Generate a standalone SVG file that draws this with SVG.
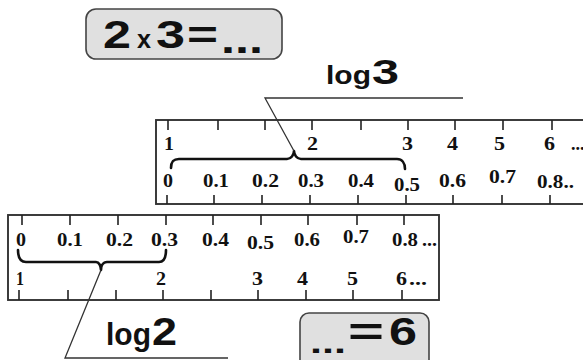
<svg xmlns="http://www.w3.org/2000/svg" width="583" height="360" viewBox="0 0 583 360">
<style>
.bg{fill:#ffffff}
.box{fill:#e0e0e0;stroke:#444;stroke-width:1.6}
.ruler{fill:#ffffff;stroke:#333;stroke-width:1.9}
.tick{stroke:#222;stroke-width:1.6}
.r{font-family:"Liberation Serif","Times New Roman",serif;font-weight:bold;font-size:18px;fill:#111}
.s{font-family:"Liberation Sans",Arial,sans-serif;font-weight:bold;fill:#111}
.brace{fill:none;stroke:#111;stroke-width:2.6;stroke-linejoin:round;stroke-linecap:round}
.lead{fill:none;stroke:#333;stroke-width:1.3}
</style>
<rect class="bg" x="0" y="0" width="583" height="360"/>

<g id="box-top">
<rect class="box" x="86" y="9" width="196" height="50" rx="10"/>
<text class="s" x="103" y="48" font-size="38" textLength="28" lengthAdjust="spacingAndGlyphs">2</text>
<text class="s" x="137" y="48" font-size="25" textLength="14" lengthAdjust="spacingAndGlyphs">x</text>
<text class="s" x="156" y="48" font-size="38" textLength="29" lengthAdjust="spacingAndGlyphs">3</text>
<text class="s" x="187" y="48" font-size="38" textLength="31" lengthAdjust="spacingAndGlyphs">=</text>
<text class="s" x="221" y="53" font-size="38" textLength="42" lengthAdjust="spacingAndGlyphs">...</text>
</g>

<g id="label-log3">
<text class="s" x="326" y="84" font-size="26" textLength="45" lengthAdjust="spacingAndGlyphs">log</text>
<text class="s" x="372" y="84" font-size="35" textLength="27" lengthAdjust="spacingAndGlyphs">3</text>
</g>

<g id="ruler-top">
<rect class="ruler" x="156" y="120" width="440" height="84"/>
<path class="tick" d="M168,120V130M218,120V130M265,120V130M312,120V130M361,120V130M408,120V130M455,120V130M503,120V130M552,120V130"/>
<path class="tick" d="M167,195V204M214,195V204M262,195V204M310,195V204M358,195V204M406,195V204M453,195V204M502,195V204M550,195V204"/>
<text class="r" x="164" y="149.5" textLength="10" lengthAdjust="spacingAndGlyphs">1</text>
<text class="r" x="307" y="149.5" textLength="11" lengthAdjust="spacingAndGlyphs">2</text>
<text class="r" x="402" y="149.5" textLength="11" lengthAdjust="spacingAndGlyphs">3</text>
<text class="r" x="447" y="149.5" textLength="11" lengthAdjust="spacingAndGlyphs">4</text>
<text class="r" x="494" y="149.5" textLength="11" lengthAdjust="spacingAndGlyphs">5</text>
<text class="r" x="544" y="149.5" textLength="11" lengthAdjust="spacingAndGlyphs">6</text>
<text class="r" x="571" y="149.5" font-size="12">...</text>
<text class="r" x="163" y="187" textLength="10" lengthAdjust="spacingAndGlyphs">0</text>
<text class="r" x="203" y="187" textLength="26" lengthAdjust="spacingAndGlyphs">0.1</text>
<text class="r" x="252" y="187" textLength="27" lengthAdjust="spacingAndGlyphs">0.2</text>
<text class="r" x="298" y="187" textLength="26" lengthAdjust="spacingAndGlyphs">0.3</text>
<text class="r" x="348" y="187" textLength="26" lengthAdjust="spacingAndGlyphs">0.4</text>
<text class="r" x="394" y="191" textLength="26" lengthAdjust="spacingAndGlyphs">0.5</text>
<text class="r" x="439" y="187" textLength="27" lengthAdjust="spacingAndGlyphs">0.6</text>
<text class="r" x="489" y="183" textLength="27" lengthAdjust="spacingAndGlyphs">0.7</text>
<text class="r" x="537" y="188" textLength="37" lengthAdjust="spacingAndGlyphs">0.8..</text>
</g>

<g id="ruler-bottom">
<rect class="ruler" x="8" y="215" width="431" height="85"/>
<path class="tick" d="M22,215V225M70,215V225M118,215V225M166,215V225M213,215V225M261,215V225M308,215V225M357,215V225M404,215V225"/>
<path class="tick" d="M19,290V300M68,290V300M116,290V300M163,290V300M211,290V300M258,290V300M306,290V300M353,290V300M402,290V300"/>
<text class="r" x="16" y="246" textLength="10" lengthAdjust="spacingAndGlyphs">0</text>
<text class="r" x="57" y="246" textLength="26" lengthAdjust="spacingAndGlyphs">0.1</text>
<text class="r" x="106" y="246" textLength="27" lengthAdjust="spacingAndGlyphs">0.2</text>
<text class="r" x="151" y="246" textLength="27" lengthAdjust="spacingAndGlyphs">0.3</text>
<text class="r" x="202" y="246" textLength="27" lengthAdjust="spacingAndGlyphs">0.4</text>
<text class="r" x="247" y="249" textLength="27" lengthAdjust="spacingAndGlyphs">0.5</text>
<text class="r" x="294" y="246" textLength="26" lengthAdjust="spacingAndGlyphs">0.6</text>
<text class="r" x="343" y="243" textLength="26" lengthAdjust="spacingAndGlyphs">0.7</text>
<text class="r" x="392" y="246" textLength="26" lengthAdjust="spacingAndGlyphs">0.8</text>
<text class="r" x="422" y="246" textLength="15" lengthAdjust="spacingAndGlyphs">...</text>
<text class="r" x="16" y="285" textLength="8" lengthAdjust="spacingAndGlyphs">1</text>
<text class="r" x="156" y="285" textLength="10" lengthAdjust="spacingAndGlyphs">2</text>
<text class="r" x="252" y="285" textLength="11" lengthAdjust="spacingAndGlyphs">3</text>
<text class="r" x="297" y="285" textLength="11" lengthAdjust="spacingAndGlyphs">4</text>
<text class="r" x="347" y="285" textLength="11" lengthAdjust="spacingAndGlyphs">5</text>
<text class="r" x="396" y="285" textLength="11" lengthAdjust="spacingAndGlyphs">6</text>
<text class="r" x="409" y="285" textLength="18" lengthAdjust="spacingAndGlyphs">...</text>
</g>

<g id="label-log2">
<text class="s" x="106" y="345" font-size="32" textLength="45" lengthAdjust="spacingAndGlyphs">log</text>
<text class="s" x="152" y="345" font-size="39" textLength="25" lengthAdjust="spacingAndGlyphs">2</text>
</g>

<g id="box-bottom">
<rect class="box" x="300" y="313" width="129" height="56" rx="9"/>
<text class="s" x="310" y="353" font-size="30" textLength="36" lengthAdjust="spacingAndGlyphs">...</text>
<text class="s" x="348" y="345" font-size="38" textLength="36" lengthAdjust="spacingAndGlyphs">=</text>
<text class="s" x="389" y="345" font-size="38" textLength="28" lengthAdjust="spacingAndGlyphs">6</text>
</g>

<g id="connectors">
<path class="brace" d="M171,168C171,162 173,159 179,159L287,159C291,159 294,155 294,151C294,155 297,159 301,159L397,159C402,159 405,163 405,169"/>
<path class="lead" d="M294,151L265,98H463"/>
<path class="brace" d="M18,250C18,257 20,262 26,262L96,262C99,262 101,266 101,270C101,266 103,262 107,262L159,262C164,262 166,257 166,250"/>
<path class="lead" d="M101,270L65,358H228"/>
</g>
</svg>
